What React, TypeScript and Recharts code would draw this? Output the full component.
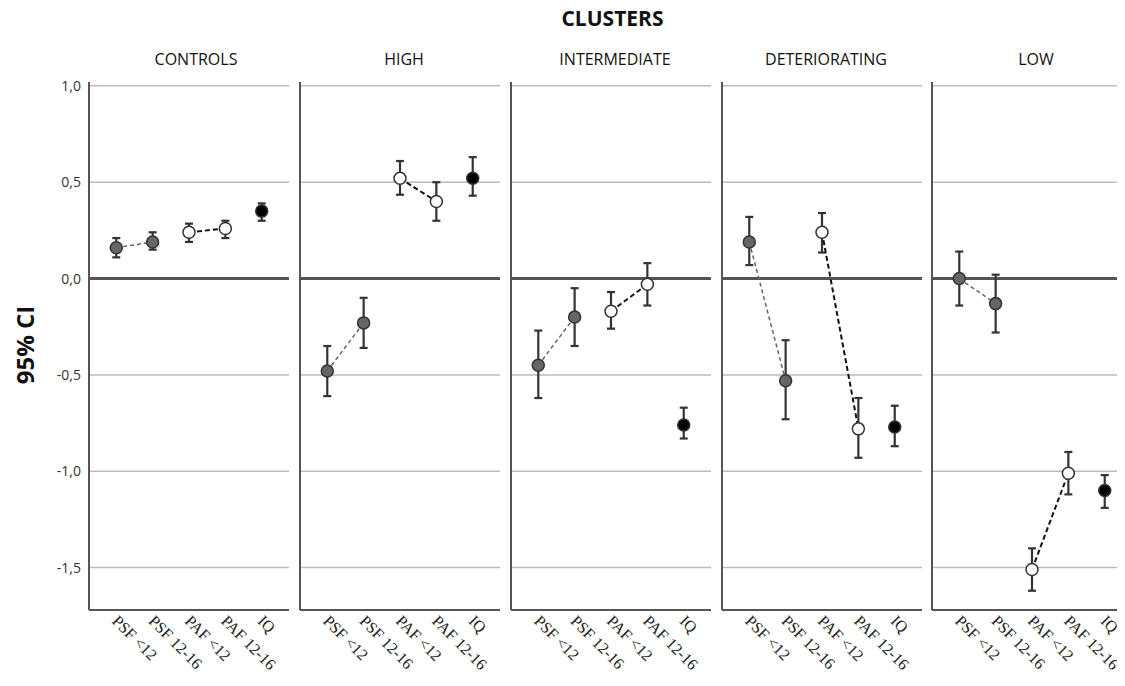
import React from 'react';
import { ComposedChart, Scatter, ErrorBar, XAxis, YAxis, ReferenceLine } from 'recharts';

const categories = ['PSF <12', 'PSF 12-16', 'PAF <12', 'PAF 12-16', 'IQ'];
const clusters = ['CONTROLS', 'HIGH', 'INTERMEDIATE', 'DETERIORATING', 'LOW'];
const yTicks = [1, 0.5, 0, -0.5, -1, -1.5];

const controlsMean = [0.16, 0.19, 0.24, 0.26, 0.35];
const controlsLow = [0.11, 0.15, 0.19, 0.21, 0.3];
const controlsHigh = [0.21, 0.24, 0.285, 0.3, 0.39];

const highMean = [-0.48, -0.23, 0.52, 0.4, 0.52];
const highLow = [-0.61, -0.36, 0.435, 0.3, 0.43];
const highHigh = [-0.35, -0.1, 0.61, 0.5, 0.63];

const intermediateMean = [-0.45, -0.2, -0.17, -0.03, -0.76];
const intermediateLow = [-0.62, -0.35, -0.26, -0.14, -0.83];
const intermediateHigh = [-0.27, -0.05, -0.07, 0.08, -0.67];

const deterioratingMean = [0.19, -0.53, 0.24, -0.78, -0.77];
const deterioratingLow = [0.07, -0.73, 0.135, -0.93, -0.87];
const deterioratingHigh = [0.32, -0.32, 0.34, -0.62, -0.66];

const lowMean = [0.0, -0.13, -1.51, -1.01, -1.1];
const lowLow = [-0.14, -0.28, -1.62, -1.12, -1.19];
const lowHigh = [0.14, 0.02, -1.4, -0.9, -1.02];

const panels = [
  { mean: controlsMean, lo: controlsLow, hi: controlsHigh },
  { mean: highMean, lo: highLow, hi: highHigh },
  { mean: intermediateMean, lo: intermediateLow, hi: intermediateHigh },
  { mean: deterioratingMean, lo: deterioratingLow, hi: deterioratingHigh },
  { mean: lowMean, lo: lowLow, hi: lowHigh },
];

const panelLeft = [89, 300, 511, 722, 932];
const uiFont = '"Open Sans", "DejaVu Sans", sans-serif';

function points(p: { mean: number[]; lo: number[]; hi: number[] }, idx: number[]) {
  return idx.map((i) => ({ x: i, y: p.mean[i], err: [p.mean[i] - p.lo[i], p.hi[i] - p.mean[i]] }));
}

const dot = (fill: string) => (props: any) => (
  <circle cx={props.cx} cy={props.cy} r={6} fill={fill} stroke="#333" strokeWidth={1.5} />
);

const CatTick = (props: any) => {
  const { x, y, payload } = props;
  const tx = x - 5;
  const ty = y + 4;
  return (
    <text
      x={tx}
      y={ty}
      transform={`rotate(45, ${tx}, ${ty})`}
      textAnchor="start"
      fontFamily='"Liberation Serif", serif'
      fontSize={16}
      fill="#222"
    >
      {categories[payload.value]}
    </text>
  );
};

function Panel({ index }: { index: number }) {
  const p = panels[index];
  const first = index === 0;
  const axisW = first ? 89 : 1;
  const left = first ? 0 : panelLeft[index] - 1;
  return (
    <div style={{ position: 'absolute', left, top: 0 }}>
      <ComposedChart
        width={axisW + 200}
        height={686}
        margin={{ top: 82, right: 0, bottom: 0, left: 0 }}
      >
        <XAxis
          type="number"
          dataKey="x"
          domain={[-0.75, 4.75]}
          ticks={[0, 1, 2, 3, 4]}
          height={76}
          tickLine={false}
          axisLine={{ stroke: '#555', strokeWidth: 2 }}
          tick={<CatTick />}
          interval={0}
        />
        <YAxis
          type="number"
          dataKey="y"
          domain={[-1.72, 1.02]}
          ticks={yTicks}
          width={axisW}
          tickLine={false}
          axisLine={{ stroke: '#555', strokeWidth: 2 }}
          tick={first ? { fill: '#333', fontSize: 14, fontFamily: uiFont } : false}
          tickFormatter={(v: number) => v.toFixed(1).replace('.', ',')}
          allowDataOverflow
        />
        {yTicks
          .filter((v) => v !== 0)
          .map((v) => (
            <ReferenceLine key={v} y={v} stroke="#bbb" strokeWidth={1.5} />
          ))}
        <ReferenceLine y={0} stroke="#555" strokeWidth={3} />
        <Scatter
          data={points(p, [0, 1])}
          line={{ stroke: '#666', strokeWidth: 1.5, strokeDasharray: '4 3' }}
          shape={dot('#666')}
          isAnimationActive={false}
        >
          <ErrorBar dataKey="err" direction="y" width={4} stroke="#333" strokeWidth={2.2} />
        </Scatter>
        <Scatter
          data={points(p, [2, 3])}
          line={{ stroke: '#111', strokeWidth: 2, strokeDasharray: '5 3' }}
          shape={dot('#fff')}
          isAnimationActive={false}
        >
          <ErrorBar dataKey="err" direction="y" width={4} stroke="#333" strokeWidth={2.2} />
        </Scatter>
        <Scatter data={points(p, [4])} shape={dot('#000')} isAnimationActive={false}>
          <ErrorBar dataKey="err" direction="y" width={4} stroke="#333" strokeWidth={2.2} />
        </Scatter>
      </ComposedChart>
    </div>
  );
}

export default function App() {
  return (
    <div
      style={{
        position: 'relative',
        left: -8,
        top: -8,
        width: 1125,
        height: 686,
        overflow: 'hidden',
        background: '#fff',
      }}
    >
      <div
        style={{
          position: 'absolute',
          left: 0,
          width: 1225,
          top: 4,
          textAlign: 'center',
          fontFamily: uiFont,
          fontWeight: 700,
          fontSize: 21,
          color: '#111',
        }}
      >
        CLUSTERS
      </div>
      {clusters.map((c, i) => (
        <div
          key={c}
          style={{
            position: 'absolute',
            left: panelLeft[i] + (i === 0 ? 7 : 4),
            width: 200,
            top: 48,
            textAlign: 'center',
            fontFamily: uiFont,
            fontSize: 16,
            color: '#111',
          }}
        >
          {c}
        </div>
      ))}
      <div
        style={{
          position: 'absolute',
          left: 24,
          top: 345,
          transform: 'translate(-50%, -50%) rotate(-90deg)',
          fontFamily: uiFont,
          fontWeight: 700,
          fontSize: 24,
          color: '#111',
          whiteSpace: 'nowrap',
        }}
      >
        95% CI
      </div>
      {clusters.map((c, i) => (
        <Panel key={c} index={i} />
      ))}
    </div>
  );
}
